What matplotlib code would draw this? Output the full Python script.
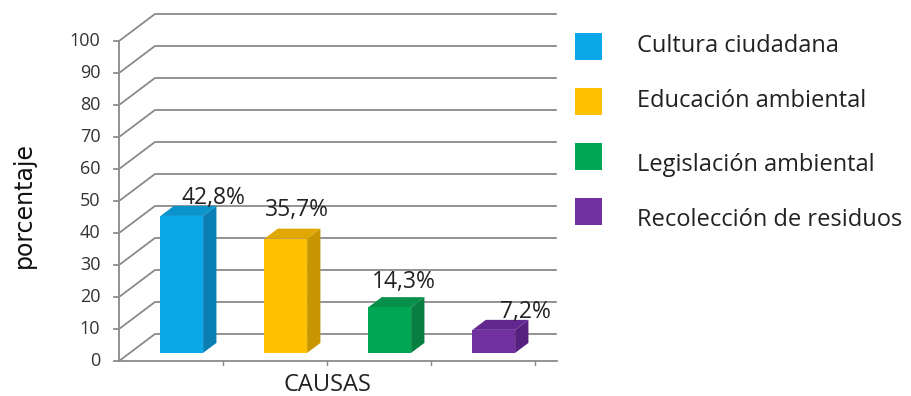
import matplotlib
matplotlib.use("Agg")
import matplotlib.pyplot as plt
from matplotlib.patches import Polygon, Rectangle

# Data
series = ["Cultura ciudadana", "Educación ambiental",
          "Legislación ambiental", "Recolección de residuos"]
values = [42.8, 35.7, 14.3, 7.2]
labels = ["42,8%", "35,7%", "14,3%", "7,2%"]
yticks = [0, 10, 20, 30, 40, 50, 60, 70, 80, 90, 100]
category = "CAUSAS"
ylabel = "porcentaje"

front_colors = ["#0aa8e8", "#ffc000", "#00a651", "#7030a0"]
side_colors = ["#0a7fb4", "#c79600", "#067f40", "#55207e"]
top_colors = ["#0b93cc", "#e0a800", "#079049", "#632790"]

# label offsets from the top-front centre of each bar (slot units, percent units)
label_dx = [0.30, 0.11, 0.14, 0.30]
label_dy = [5.6, 8.8, 7.8, 5.6]

FONT = ["Open Sans", "DejaVu Sans"]

fig = plt.figure(figsize=(9.12, 3.96), dpi=100)
ax = fig.add_axes([0, 0, 1, 1])
# one slot per series along x; percent along y
ax.set_xlim(-119 / 104, (912 - 119) / 104)
ax.set_ylim(-(396 - 361) / 3.2, 361 / 3.2)
ax.axis("off")

# depth of the 3-D box (x, y) in data units
DX, DY = 0.346, 8.44
n = len(values)
wall_end = n + 0.21
grid_c = "#8a8a8a"

# back wall gridlines and left-wall slants
for v in yticks:
    ax.plot([0, DX, wall_end], [v, v + DY, v + DY], color=grid_c, lw=1.3,
            solid_capstyle="butt", zorder=1)
    ax.plot([-0.05, 0], [v, v], color=grid_c, lw=1.3, zorder=1)
    ax.text(-0.18, v, str(v), ha="right", va="center", fontsize=13,
            family=FONT, color="#333333")

# front floor edge and vertical axis
ax.plot([0, wall_end], [0, 0], color=grid_c, lw=1.3, zorder=1)
ax.plot([0, 0], [0, 100], color=grid_c, lw=1.3, zorder=1)
for i in range(1, n + 1):
    ax.plot([i, i], [0, -1.2], color=grid_c, lw=1.0, zorder=1)

# 3-D bars
w = 0.41
f0, f1 = 0.30, 0.67
for i, (val, lab) in enumerate(zip(values, labels)):
    cx = i + 0.5
    x0 = cx - w / 2 + DX * f0
    x1 = cx + w / 2 + DX * f0
    y0 = DY * f0
    y1 = val + DY * f0
    ddx = DX * (f1 - f0)
    ddy = DY * (f1 - f0)
    ax.add_patch(Polygon([[x1, y0], [x1 + ddx, y0 + ddy], [x1 + ddx, y1 + ddy], [x1, y1]],
                         closed=True, fc=side_colors[i], ec="none", zorder=3))
    ax.add_patch(Polygon([[x0, y1], [x1, y1], [x1 + ddx, y1 + ddy], [x0 + ddx, y1 + ddy]],
                         closed=True, fc=top_colors[i], ec="none", zorder=3))
    ax.add_patch(Rectangle((x0, y0), x1 - x0, y1 - y0, fc=front_colors[i],
                           ec="none", zorder=4))
    ax.text((x0 + x1) / 2 + label_dx[i], y1 + label_dy[i], lab, ha="center",
            va="center", fontsize=16.5, family=FONT, color="#222222", zorder=5)

ax.text(n / 2 + 0.0, -7.4, category, ha="center", va="center", fontsize=17,
        family=FONT, color="#222222")
fig.text(24 / 912, 1 - 205 / 396, ylabel, rotation=90, ha="center", va="center",
         fontsize=17, family=["DejaVu Sans"], color="#111111")

# legend
box_y = [33, 88, 143, 198]
text_y = [46, 101, 165, 220]
for name, col, by, ty in zip(series, front_colors, box_y, text_y):
    fig.patches.append(Rectangle((575 / 912, 1 - (by + 27) / 396), 27 / 912, 27 / 396,
                                 transform=fig.transFigure, fc=col, ec="none"))
    fig.text(637 / 912, 1 - ty / 396, name, ha="left", va="center", fontsize=17,
             family=FONT, color="#222222")

fig.savefig("out.png", dpi=100, facecolor="white")
